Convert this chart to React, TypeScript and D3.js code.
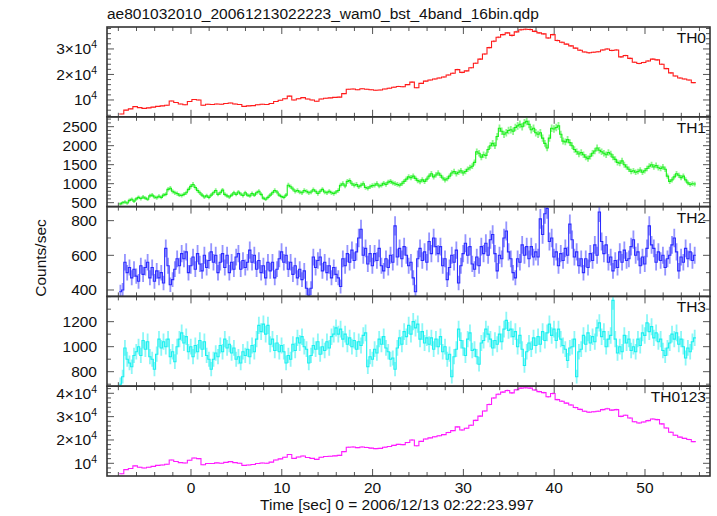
import { useEffect, useRef } from 'react'
import * as d3 from 'd3'

const TITLE = 'ae801032010_20061213022223_wam0_bst_4band_16bin.qdp'
const X_LABEL = 'Time [sec] 0 = 2006/12/13 02:22:23.997'
const Y_LABEL = 'Counts/sec'

const T_START = -7.9
const xTickValues = [0, 10, 20, 30, 40, 50]
const xTickLabels = ['0', '10', '20', '30', '40', '50']

// TH0, 0.5 s bins
const th0 = [
  4500, 6000, 6500, 7400, 7000, 6700, 6900, 7200, 7500, 7700,
  7900, 9600, 9000, 8400, 8100, 9400, 10200, 10000, 7900, 8300,
  8200, 8400, 8300, 8600, 8800, 8400, 8200, 7500, 7700, 7800,
  8100, 8300, 8200, 8600, 9400, 9900, 10500, 11500, 10000, 10500,
  10900, 10400, 10000, 9500, 10400, 10700, 10800, 11000, 11100, 12500,
  14200, 14300, 14000, 14400, 14200, 14000, 13800, 13900, 14300, 14600,
  15000, 15300, 15200, 16000, 17000, 14800, 16500, 17400, 17800, 18200,
  18600, 19000, 19800, 20500, 21900, 20800, 21400, 22600, 24400, 26000,
  28000, 30500, 33000, 34600, 35600, 36300, 35300, 36700, 37500, 37700,
  37600, 36900, 36300, 35900, 34300, 35600, 33300, 32600, 31900, 31200,
  30300, 29500, 28800, 28500, 28700, 28900, 29600, 30000, 29400, 29600,
  26900, 27400, 26300, 24800, 24300, 24700, 25300, 26000, 25700, 24000,
  22300, 20600, 19400, 18600, 18200, 17800, 16800,
]

// TH1, 0.25 s bins
const th1 = [
  470, 500, 520, 490, 560, 590, 540, 600, 640, 610, 650, 620,
  590, 680, 700, 650, 630, 670, 640, 700, 720, 850, 880, 800,
  760, 740, 700, 690, 720, 760, 850, 930, 980, 900, 820, 760,
  700, 650, 680, 640, 700, 760, 820, 720, 760, 830, 720, 680,
  650, 700, 760, 720, 780, 730, 690, 760, 700, 680, 740, 700,
  760, 800, 720, 620, 590, 640, 700, 760, 820, 780, 700, 660,
  640, 700, 960, 920, 860, 800, 820, 780, 760, 820, 800, 760,
  780, 840, 800, 740, 800, 850, 780, 760, 800, 760, 740, 780,
  820, 960, 1000, 940, 1060, 1080, 1000, 960, 980, 920, 960, 1000,
  900, 880, 920, 950, 960, 1000, 940, 960, 1010, 980, 1040, 1060,
  1020, 1000, 980, 960, 1000, 1060, 1120, 1180, 1160, 1200, 1140, 1080,
  1050, 1100, 1060, 1120, 1200, 1260, 1180, 1230, 1280, 1220, 1150, 1100,
  1130, 1200, 1280, 1320, 1260, 1300, 1340, 1280, 1320, 1380, 1420, 1460,
  1560, 1840, 1800, 1700, 1760, 1740, 1900, 2000, 2060, 2000, 2240, 2460,
  2380, 2300, 2340, 2400, 2420, 2380, 2480, 2520, 2560, 2500, 2600, 2640,
  2560, 2420, 2460, 2340, 2300, 2340, 2200, 2060, 1940, 2200, 2460, 2440,
  2480, 2520, 2300, 2120, 2100, 2160, 2080, 2000, 1900, 1840, 1780, 1820,
  1760, 1700, 1660, 1720, 1800, 1860, 1940, 1880, 1840, 1800, 1760, 1820,
  1780, 1700, 1640, 1560, 1540, 1600, 1500, 1440, 1380, 1320, 1340, 1300,
  1320, 1360, 1300, 1340, 1400, 1460, 1500, 1440, 1480, 1420, 1400, 1440,
  1380, 1200, 1060, 1100, 1180, 1260, 1220, 1160, 1200, 1100, 1020, 980,
  1000, 990,
]

// TH2, 0.25 s bins
const th2 = [
  390, 400, 560, 500, 530, 470, 520, 480, 450, 540, 490, 530,
  560, 470, 530, 450, 510, 470, 500, 440, 640, 540, 430, 460,
  520, 580, 540, 610, 580, 620, 500, 540, 590, 520, 610, 550,
  510, 600, 530, 570, 620, 560, 600, 500, 560, 610, 530, 600,
  500, 560, 520, 590, 610, 520, 570, 530, 560, 630, 560, 600,
  520, 570, 500, 540, 470, 560, 510, 560, 470, 520, 580, 620,
  560, 600, 520, 560, 490, 540, 470, 520, 460, 510, 410, 370,
  410, 590, 530, 570, 590, 510, 560, 500, 540, 470, 530, 490,
  470, 420, 580, 540, 610, 560, 630, 570, 620, 700, 750, 600,
  640, 550, 610, 540, 610, 570, 640, 540, 510, 580, 530, 600,
  560, 770, 590, 640, 580, 650, 600, 540, 560, 470, 390, 580,
  640, 570, 620, 560, 680, 610, 700, 650, 610, 650, 540, 580,
  460, 530, 600, 560, 630, 440, 540, 610, 670, 600, 650, 550,
  520, 590, 540, 650, 610, 670, 600, 690, 720, 610, 510, 600,
  580, 700, 740, 620, 580, 500, 470, 580, 560, 660, 600, 650,
  580, 650, 590, 620, 590, 810, 720, 840, 870, 680, 700, 590,
  620, 540, 610, 570, 640, 600, 780, 690, 590, 620, 540, 580,
  500, 580, 530, 610, 570, 660, 600, 850, 680, 610, 660, 560,
  590, 510, 570, 530, 620, 560, 630, 570, 580, 650, 690, 600,
  620, 540, 590, 550, 640, 770, 660, 640, 560, 620, 570, 600,
  530, 580, 600, 660, 700, 620, 510, 590, 560, 640, 580, 620,
  570, 600,
]

// TH3, 0.25 s bins
const th3 = [
  700, 760, 990, 900, 870, 840, 930, 960, 1000, 930, 1050, 980,
  1040, 920, 900, 820, 940, 1060, 990, 1040, 1000, 1060, 920, 960,
  880, 1000, 1060, 1110, 1030, 1080, 960, 1000, 920, 1010, 960, 1050,
  980, 1040, 930, 900, 820, 900, 950, 920, 1010, 960, 1060, 990,
  1020, 950, 990, 900, 920, 870, 960, 930, 980, 920, 1010, 960,
  1060, 1170, 1120, 1180, 1100, 1170, 1020, 1060, 970, 1030, 960, 1010,
  960, 870, 930, 900, 1020, 970, 1070, 1030, 1080, 1000, 980, 870,
  930, 1010, 980, 1040, 940, 1000, 970, 1040, 990, 1080, 1100, 1150,
  1100, 1140, 1060, 1100, 1020, 1070, 1000, 1050, 980, 1040, 1010, 1090,
  1110, 840, 920, 900, 980, 950, 1060, 1020, 1080, 990, 960, 900,
  910, 820, 990, 1070, 1020, 1120, 1080, 1170, 1100, 1200, 1150, 1180,
  1060, 1120, 1030, 1070, 1020, 1070, 980, 1060, 1000, 1080, 960, 1000,
  900, 940, 760, 920, 980, 1140, 1050, 990, 930, 1060, 1110, 970,
  980, 920, 860, 1030, 1050, 1140, 1100, 1060, 990, 1050, 1020, 1100,
  1040, 1140, 1210, 1130, 1140, 1080, 1120, 1000, 1090, 980, 850, 960,
  1030, 980, 1070, 1010, 1080, 1020, 1120, 1050, 1110, 1180, 1090, 1140,
  1050, 1140, 1060, 1010, 980, 890, 990, 1000, 1060, 760, 960, 980,
  1090, 1020, 1110, 1030, 1080, 1040, 1150, 1190, 1080, 1120, 1000, 1060,
  1090, 1370, 1060, 950, 1000, 960, 1090, 1030, 1060, 970, 1000, 960,
  1060, 1010, 1110, 1090, 1190, 1120, 1160, 1070, 1110, 1040, 1060, 970,
  930, 990, 1030, 1100, 1060, 1110, 1020, 1060, 1000, 910, 990, 960,
  1040, 1070,
]

// TH0123, 0.5 s bins
const th0123 = [
  5500, 7300, 7800, 8900, 8300, 8000, 8300, 8700, 9100, 9300,
  9600, 11400, 10800, 10300, 10100, 11300, 12300, 12000, 9400, 9900,
  9900, 10200, 10000, 10400, 10700, 10300, 10000, 9100, 9300, 9500,
  9900, 10100, 10000, 10500, 11400, 11900, 12600, 13800, 12100, 12700,
  13100, 12500, 12100, 11700, 12600, 12900, 13000, 13200, 13400, 15000,
  16900, 17000, 16700, 17000, 16800, 16500, 16300, 16400, 16900, 17200,
  17700, 18100, 18000, 18900, 20000, 17500, 19400, 20400, 20900, 21400,
  21800, 22300, 23200, 24000, 25600, 24300, 25000, 26300, 28400, 30200,
  32400, 35200, 38000, 39600, 40500, 41200, 40200, 41500, 42200, 42400,
  42200, 41400, 40700, 40300, 38500, 39900, 37300, 36600, 35800, 35000,
  33900, 33100, 32300, 31900, 32100, 32300, 33000, 33400, 32800, 33000,
  30100, 30600, 29400, 27800, 27300, 27700, 28300, 29000, 28700, 26900,
  25100, 23300, 22000, 21200, 20700, 20200, 19300,
]

const th0Ticks = [10000, 20000, 30000]
const th0TickLabels = ['10^4', '2×10^4', '3×10^4']
const th1Ticks = [500, 1000, 1500, 2000, 2500]
const th1TickLabels = ['500', '1000', '1500', '2000', '2500']
const th2Ticks = [400, 600, 800]
const th2TickLabels = ['400', '600', '800']
const th3Ticks = [800, 1000, 1200]
const th3TickLabels = ['800', '1000', '1200']
const th0123Ticks = [10000, 20000, 30000, 40000]
const th0123TickLabels = ['10^4', '2×10^4', '3×10^4', '4×10^4']

interface Panel {
  name: string
  color: string
  values: number[]
  binWidth: number
  domain: [number, number]
  ticks: number[]
  tickLabels: string[]
  minorStep: number
}

const panels: Panel[] = [
  { name: 'TH0', color: '#ff1a1a', values: th0, binWidth: 0.5, domain: [3400, 38600], ticks: th0Ticks, tickLabels: th0TickLabels, minorStep: 2000 },
  { name: 'TH1', color: '#1aee1a', values: th1, binWidth: 0.25, domain: [397, 2760], ticks: th1Ticks, tickLabels: th1TickLabels, minorStep: 100 },
  { name: 'TH2', color: '#2a2aff', values: th2, binWidth: 0.25, domain: [363, 881], ticks: th2Ticks, tickLabels: th2TickLabels, minorStep: 100 },
  { name: 'TH3', color: '#1af0f0', values: th3, binWidth: 0.25, domain: [684, 1402], ticks: th3Ticks, tickLabels: th3TickLabels, minorStep: 100 },
  { name: 'TH0123', color: '#ff1aff', values: th0123, binWidth: 0.5, domain: [4560, 43040], ticks: th0123Ticks, tickLabels: th0123TickLabels, minorStep: 2000 },
]

const FONT = '"Liberation Sans", Arial, Helvetica, sans-serif'

export default function App() {
  const svgRef = useRef<SVGSVGElement | null>(null)

  useEffect(() => {
    document.body.style.margin = '0'
    const width = 717
    const height = 516
    const left = 107
    const right = 710
    const top = 27
    const bottom = 476
    const panelH = (bottom - top) / panels.length

    const svg = d3.select(svgRef.current)
    svg.attr('width', width).attr('height', height).attr('viewBox', `0 0 ${width} ${height}`)
    svg.selectAll('*').remove()
    svg.append('rect').attr('width', width).attr('height', height).attr('fill', '#fff')

    const x = d3.scaleLinear().domain([-9.25, 57.16]).range([left, right])
    const xMinor = d3.range(-8, 57, 2)

    const defs = svg.append('defs')

    panels.forEach((p, k) => {
      const y0 = top + k * panelH
      const y1 = y0 + panelH
      const y = d3.scaleLinear().domain(p.domain).range([y1, y0])
      const g = svg.append('g').attr('class', `panel-${k}`)

      defs
        .append('clipPath')
        .attr('id', `clip-${k}`)
        .append('rect')
        .attr('x', left)
        .attr('y', y0)
        .attr('width', right - left)
        .attr('height', panelH)

      const data = g.append('g').attr('clip-path', `url(#clip-${k})`)

      // error bars (Poisson, 0.25 s exposure)
      data
        .selectAll('line.err')
        .data(p.values)
        .join('line')
        .attr('class', 'err')
        .attr('x1', (_, i) => x(T_START + (i + 0.5) * p.binWidth))
        .attr('x2', (_, i) => x(T_START + (i + 0.5) * p.binWidth))
        .attr('y1', (v) => y(v - Math.sqrt(v / 0.25)))
        .attr('y2', (v) => y(v + Math.sqrt(v / 0.25)))
        .attr('stroke', p.color)
        .attr('stroke-opacity', 0.5)
        .attr('stroke-width', 1.8)

      // step line
      const pts: [number, number][] = p.values.map((v, i) => [T_START + i * p.binWidth, v])
      pts.push([T_START + p.values.length * p.binWidth, p.values[p.values.length - 1]])
      const line = d3
        .line<[number, number]>()
        .x((d) => x(d[0]))
        .y((d) => y(d[1]))
        .curve(d3.curveStepAfter)
      data
        .append('path')
        .attr('d', line(pts))
        .attr('fill', 'none')
        .attr('stroke', p.color)
        .attr('stroke-width', 1.1)

      // x ticks, top and bottom, inward
      xMinor.forEach((t) => {
        const len = t % 10 === 0 ? 7 : 4
        g.append('line').attr('x1', x(t)).attr('x2', x(t)).attr('y1', y0).attr('y2', y0 + len).attr('stroke', '#555')
        g.append('line').attr('x1', x(t)).attr('x2', x(t)).attr('y1', y1).attr('y2', y1 - len).attr('stroke', '#555')
      })

      // y ticks, left and right, inward
      const yMinor = d3.range(Math.ceil(p.domain[0] / p.minorStep) * p.minorStep, p.domain[1], p.minorStep)
      yMinor.forEach((v) => {
        const len = p.ticks.includes(v) ? 7 : 4
        g.append('line').attr('x1', left).attr('x2', left + len).attr('y1', y(v)).attr('y2', y(v)).attr('stroke', '#555')
        g.append('line').attr('x1', right).attr('x2', right - len).attr('y1', y(v)).attr('y2', y(v)).attr('stroke', '#555')
      })

      // y tick labels
      p.ticks.forEach((v, i) => {
        const [base, exp] = p.tickLabels[i].split('^')
        const txt = g
          .append('text')
          .attr('x', 97)
          .attr('y', y(v) + 5.5)
          .attr('text-anchor', 'end')
          .attr('font-family', FONT)
          .attr('font-size', 15.5)
          .attr('fill', '#111')
        txt.append('tspan').text(base)
        if (exp) {
          txt.append('tspan').attr('dy', -6).attr('font-size', 10.5).text(exp)
        }
      })

      // panel name
      g.append('text')
        .attr('x', 706)
        .attr('y', y0 + 16)
        .attr('text-anchor', 'end')
        .attr('font-family', FONT)
        .attr('font-size', 15.5)
        .attr('fill', '#111')
        .text(p.name)

      // frame
      g.append('rect')
        .attr('x', left)
        .attr('y', y0)
        .attr('width', right - left)
        .attr('height', panelH)
        .attr('fill', 'none')
        .attr('stroke', '#333')
        .attr('stroke-width', 1.6)
    })

    // x tick labels
    xTickValues.forEach((t, i) => {
      svg.append('text')
        .attr('x', x(t))
        .attr('y', 493)
        .attr('text-anchor', 'middle')
        .attr('font-family', FONT)
        .attr('font-size', 15.5)
        .attr('fill', '#111')
        .text(xTickLabels[i])
    })

    svg.append('text')
      .attr('x', 397)
      .attr('y', 510)
      .attr('text-anchor', 'middle')
      .attr('font-family', FONT)
      .attr('font-size', 15.5)
      .attr('fill', '#111')
      .text(X_LABEL)

    svg.append('text')
      .attr('transform', 'translate(46,258) rotate(-90)')
      .attr('text-anchor', 'middle')
      .attr('font-family', FONT)
      .attr('font-size', 15.5)
      .attr('fill', '#111')
      .text(Y_LABEL)

    svg.append('text')
      .attr('x', 107)
      .attr('y', 18.5)
      .attr('font-family', FONT)
      .attr('font-size', 15.5)
      .attr('fill', '#111')
      .text(TITLE)
  }, [])

  return <svg ref={svgRef} style={{ display: 'block', position: 'absolute', left: 0, top: 0 }} />
}
